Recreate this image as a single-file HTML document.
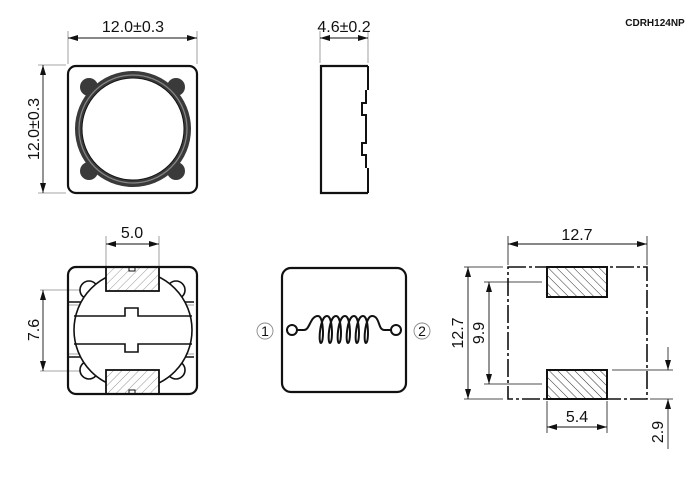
<!DOCTYPE html>
<html><head><meta charset="utf-8"><style>
html,body{margin:0;padding:0;background:#fff;}
svg{display:block;}
text{font-family:"Liberation Sans",sans-serif;fill:#111;}
</style></head><body>
<svg width="700" height="477" viewBox="0 0 700 477" xmlns="http://www.w3.org/2000/svg">
<defs>
<marker id="a" viewBox="0 0 10 6" refX="10" refY="3" markerWidth="11" markerHeight="6" orient="auto-start-reverse" markerUnits="userSpaceOnUse"><path d="M0 0L10 3L0 6z" fill="#111"/></marker>
<pattern id="h1" width="6" height="6" patternUnits="userSpaceOnUse" patternTransform="rotate(45)"><line x1="0" y1="0" x2="0" y2="6" stroke="#999" stroke-width="1"/></pattern>
<pattern id="h2" width="6" height="6" patternUnits="userSpaceOnUse" patternTransform="rotate(-45)"><line x1="0" y1="0" x2="0" y2="6" stroke="#333" stroke-width="1"/></pattern>
<clipPath id="bx"><rect x="69" y="268" width="127" height="125"/></clipPath>
</defs>
<text x="655" y="26" font-size="10" font-weight="bold" text-anchor="middle">CDRH124NP</text>

<!-- top-left view -->
<g stroke="#888" stroke-width="0.8" fill="none">
<line x1="68" y1="31" x2="68" y2="64"/><line x1="197" y1="31" x2="197" y2="64"/>
<line x1="38" y1="65" x2="66" y2="65"/><line x1="38" y1="193" x2="66" y2="193"/>
</g>
<line x1="68" y1="38" x2="197" y2="38" stroke="#111" stroke-width="0.9" marker-start="url(#a)" marker-end="url(#a)"/>
<line x1="43" y1="65" x2="43" y2="193" stroke="#111" stroke-width="0.9" marker-start="url(#a)" marker-end="url(#a)"/>
<text x="133" y="32" font-size="16" text-anchor="middle">12.0±0.3</text>
<text transform="translate(39,129) rotate(-90)" font-size="16" text-anchor="middle">12.0±0.3</text>
<rect x="68" y="66" width="129" height="127" rx="8" fill="none" stroke="#111" stroke-width="2.2"/>
<g fill="#3a3a3a">
<circle cx="89" cy="87" r="9"/><circle cx="176" cy="87" r="9"/><circle cx="89" cy="171" r="9"/><circle cx="176" cy="171" r="9"/>
<circle cx="133" cy="129" r="58"/>
</g>
<circle cx="133" cy="129" r="54" fill="none" stroke="#888" stroke-width="1.2"/>
<circle cx="133" cy="129" r="51" fill="#fff" stroke="#111" stroke-width="1"/>

<!-- side view -->
<g stroke="#888" stroke-width="0.8"><line x1="320" y1="31" x2="320" y2="63"/><line x1="368" y1="31" x2="368" y2="63"/></g>
<line x1="320" y1="38" x2="368" y2="38" stroke="#111" stroke-width="0.9" marker-start="url(#a)" marker-end="url(#a)"/>
<text x="344" y="32" font-size="16" text-anchor="middle">4.6±0.2</text>
<path d="M368 66 H321 V193 H368" fill="none" stroke="#111" stroke-width="2.2"/>
<path d="M368 66 V90 M368 168 V193 M366 90 V103 H362 V115 H366 V143 H362 V155 H366 V168" fill="none" stroke="#111" stroke-width="2"/>

<!-- bottom-left view -->
<g stroke="#888" stroke-width="0.8">
<line x1="106" y1="236" x2="106" y2="266"/><line x1="159" y1="236" x2="159" y2="266"/>
<line x1="40" y1="290" x2="104" y2="290"/><line x1="40" y1="371" x2="104" y2="371"/>
</g>
<line x1="106" y1="244" x2="159" y2="244" stroke="#111" stroke-width="0.9" marker-start="url(#a)" marker-end="url(#a)"/>
<line x1="43" y1="290" x2="43" y2="371" stroke="#111" stroke-width="0.9" marker-start="url(#a)" marker-end="url(#a)"/>
<text x="132" y="238" font-size="16" text-anchor="middle">5.0</text>
<text transform="translate(39,330) rotate(-90)" font-size="16" text-anchor="middle">7.6</text>
<g clip-path="url(#bx)" stroke="#111" stroke-width="1.6">
<path d="M69 302 H194 M69 357 H194" fill="none"/>
<path d="M69 305 H194 M69 354 H194" stroke="#888" stroke-width="0.8" fill="none"/>
<circle cx="89" cy="290" r="9" fill="#fff"/><circle cx="176" cy="290" r="9" fill="#fff"/>
<circle cx="89" cy="370" r="9" fill="#fff"/><circle cx="176" cy="370" r="9" fill="#fff"/>
<circle cx="133" cy="330" r="59" fill="#fff"/>
<path d="M74 316 H125 V308 H138 V316 H192 M74 344 H125 V352 H138 V344 H192" fill="none"/>
</g>
<rect x="106" y="267" width="53" height="24" fill="#fff"/><rect x="106" y="267" width="53" height="24" fill="url(#h1)" stroke="#111" stroke-width="1.8"/>
<rect x="106" y="370" width="53" height="24" fill="#fff"/><rect x="106" y="370" width="53" height="24" fill="url(#h1)" stroke="#111" stroke-width="1.8"/>
<rect x="129" y="267" width="6" height="4" fill="#fff" stroke="#111" stroke-width="1"/>
<rect x="129" y="390" width="6" height="4" fill="#fff" stroke="#111" stroke-width="1"/>
<rect x="68" y="267" width="129" height="127" rx="8" fill="none" stroke="#111" stroke-width="2.2"/>

<!-- schematic -->
<rect x="282" y="268" width="124" height="124" rx="9" fill="none" stroke="#111" stroke-width="2.2"/>
<circle cx="292" cy="330" r="5" fill="#fff" stroke="#111" stroke-width="2"/>
<circle cx="396" cy="330" r="5" fill="#fff" stroke="#111" stroke-width="2"/>
<path d="M297 330 H304 C310 330 310 316 318 316 C324 316 324 343 321 343 C318 343 320 316 327 316 C333 316 333 343 330 343 C327 343 329 316 336 316 C342 316 342 343 339 343 C336 343 338 316 345 316 C351 316 351 343 348 343 C345 343 347 316 354 316 C360 316 360 343 357 343 C354 343 356 316 363 316 C369 316 369 343 366 343 C363 343 365 316 372 316 C380 316 378 330 384 330 H391" fill="none" stroke="#111" stroke-width="2"/>
<circle cx="265" cy="331" r="8" fill="none" stroke="#888" stroke-width="0.9"/>
<text x="265" y="336" font-size="14" text-anchor="middle">1</text>
<circle cx="422" cy="331" r="8" fill="none" stroke="#888" stroke-width="0.9"/>
<text x="422" y="336" font-size="14" text-anchor="middle">2</text>

<!-- land pattern -->
<rect x="508" y="267" width="139" height="132" fill="none" stroke="#111" stroke-width="1.6" stroke-dasharray="18 3 3 3"/>
<rect x="547" y="267" width="60" height="30" fill="#fff" stroke="#111" stroke-width="2"/>
<rect x="547" y="267" width="60" height="30" fill="url(#h2)" stroke="#111" stroke-width="2"/>
<rect x="547" y="370" width="60" height="29" fill="#fff" stroke="#111" stroke-width="2"/>
<rect x="547" y="370" width="60" height="29" fill="url(#h2)" stroke="#111" stroke-width="2"/>
<g stroke="#111" stroke-width="0.8">
<line x1="508" y1="236" x2="508" y2="265"/><line x1="647" y1="236" x2="647" y2="265"/>
<line x1="464" y1="267" x2="503" y2="267"/><line x1="464" y1="399" x2="503" y2="399"/>
<line x1="484" y1="282" x2="542" y2="282"/><line x1="484" y1="384" x2="542" y2="384"/>
<line x1="547" y1="401" x2="547" y2="433"/><line x1="607" y1="401" x2="607" y2="433"/>
<line x1="612" y1="370" x2="673" y2="370"/><line x1="650" y1="399" x2="673" y2="399"/>
<line x1="668" y1="347" x2="668" y2="370" marker-end="url(#a)"/>
<line x1="668" y1="449" x2="668" y2="399" marker-end="url(#a)"/>
</g>
<line x1="508" y1="244" x2="647" y2="244" stroke="#111" stroke-width="0.9" marker-start="url(#a)" marker-end="url(#a)"/>
<line x1="468" y1="267" x2="468" y2="399" stroke="#111" stroke-width="0.9" marker-start="url(#a)" marker-end="url(#a)"/>
<line x1="489" y1="282" x2="489" y2="384" stroke="#111" stroke-width="0.9" marker-start="url(#a)" marker-end="url(#a)"/>
<line x1="547" y1="427" x2="607" y2="427" stroke="#111" stroke-width="0.9" marker-start="url(#a)" marker-end="url(#a)"/>
<text x="577" y="240" font-size="16" text-anchor="middle">12.7</text>
<text transform="translate(463,333) rotate(-90)" font-size="16" text-anchor="middle">12.7</text>
<text transform="translate(484,333) rotate(-90)" font-size="16" text-anchor="middle">9.9</text>
<text x="577" y="422" font-size="16" text-anchor="middle">5.4</text>
<text transform="translate(663,432) rotate(-90)" font-size="16" text-anchor="middle">2.9</text>
</svg>
</body></html>
